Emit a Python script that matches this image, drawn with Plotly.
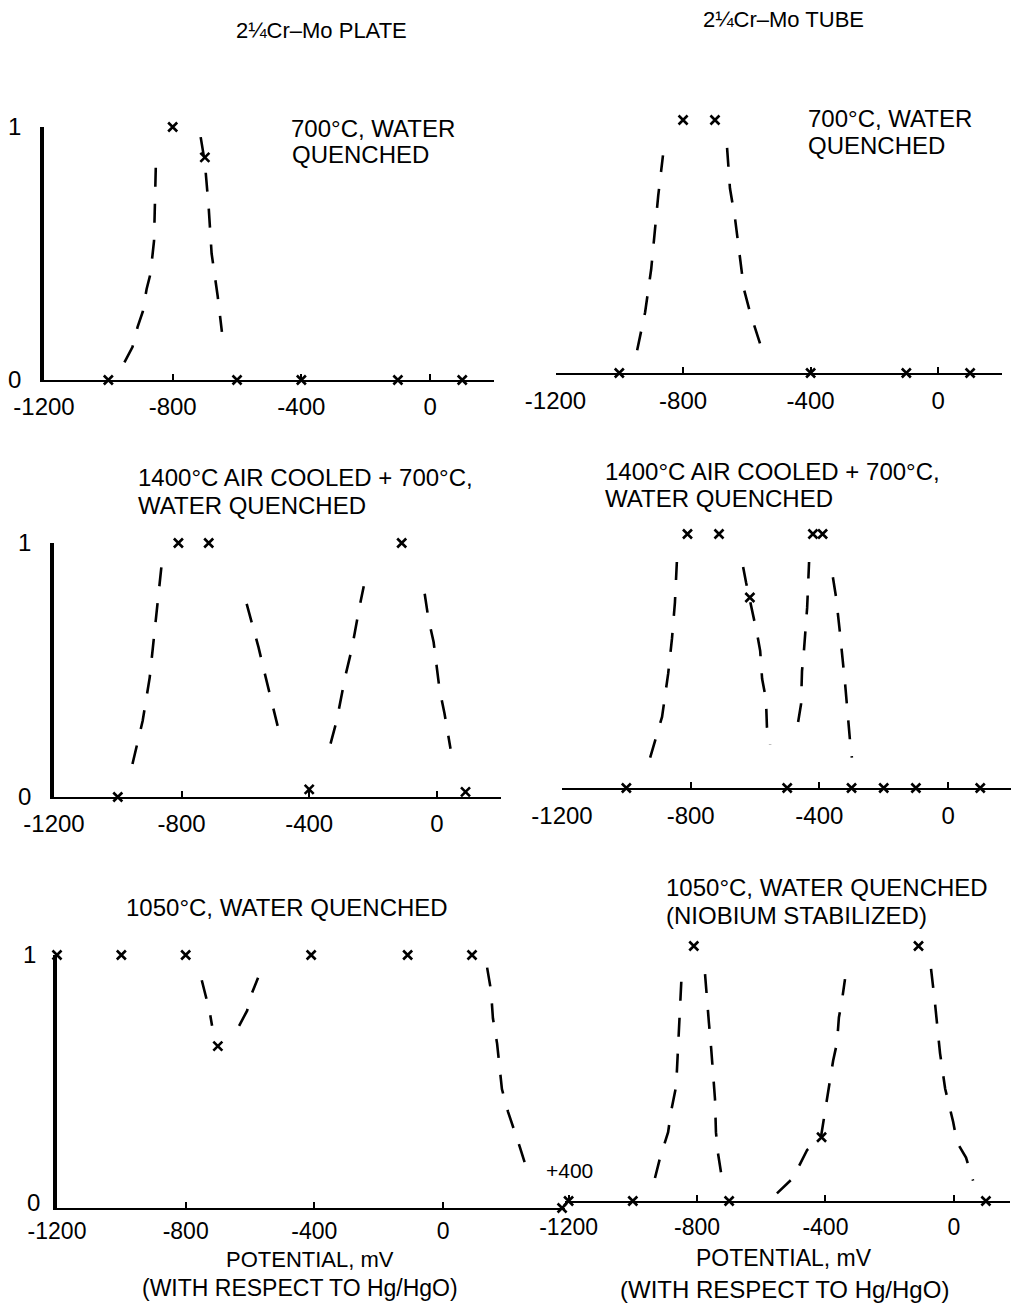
import plotly.graph_objects as go

# ---------------- data ----------------
tick_vals = [-1200, -800, -400, 0]
tick_text = ["-1200", "-800", "-400", "0"]

# 2 1/4 Cr-Mo plate, 700C water quenched
plate700_mx = [-1000, -800, -700, -600, -400, -100, 100]
plate700_my = [0, 1.0, 0.88, 0, 0, 0, 0]
plate700_c1x = [-950, -925, -909, -893, -881, -869, -858, -855, -852]
plate700_c1y = [0.07, 0.13, 0.21, 0.27, 0.36, 0.42, 0.55, 0.70, 0.87]
plate700_c2x = [-713, -700, -688, -679, -660, -647]
plate700_c2y = [0.96, 0.86, 0.68, 0.50, 0.33, 0.19]

# 2 1/4 Cr-Mo tube, 700C water quenched
tube700_mx = [-1000, -800, -700, -400, -100, 100]
tube700_my = [0, 1.0, 1.0, 0, 0, 0]
tube700_c1x = [-944, -919, -900, -888, -878, -863]
tube700_c1y = [0.09, 0.24, 0.41, 0.57, 0.70, 0.86]
tube700_c2x = [-662, -653, -637, -624, -609, -590, -552]
tube700_c2y = [0.89, 0.73, 0.61, 0.49, 0.33, 0.24, 0.09]

# plate, 1400C air cooled + 700C water quenched
plate1400_mx = [-1000, -810, -715, -400, -110, 90]
plate1400_my = [0, 1.0, 1.0, 0.03, 1.0, 0.02]
plate1400_c1x = [-954, -922, -900, -885, -869, -863]
plate1400_c1y = [0.13, 0.30, 0.47, 0.65, 0.85, 0.91]
plate1400_c2x = [-596, -559, -540, -515, -499]
plate1400_c2y = [0.76, 0.59, 0.49, 0.36, 0.28]
plate1400_c3x = [-333, -314, -286, -267, -242, -229]
plate1400_c3y = [0.21, 0.30, 0.48, 0.58, 0.75, 0.83]
plate1400_c4x = [-38, -26, -10, 2, 9, 24, 43]
plate1400_c4y = [0.80, 0.70, 0.61, 0.49, 0.42, 0.33, 0.19]

# tube, 1400C air cooled + 700C water quenched
tube1400_mx = [-1000, -810, -712, -616, -500, -420, -390, -300, -200, -100, 100]
tube1400_my = [0, 1.0, 1.0, 0.75, 0, 1.0, 1.0, 0, 0, 0, 0]
tube1400_c1x = [-926, -889, -870, -858, -849, -843]
tube1400_c1y = [0.12, 0.28, 0.45, 0.59, 0.73, 0.89]
tube1400_c2x = [-637, -628, -594, -584, -578, -566, -563, -553]
tube1400_c2y = [0.87, 0.81, 0.61, 0.54, 0.43, 0.35, 0.24, 0.17]
tube1400_c3x = [-466, -457, -454, -448, -438, -432]
tube1400_c3y = [0.26, 0.33, 0.46, 0.54, 0.71, 0.89]
tube1400_c4x = [-358, -348, -336, -330, -320, -305, -299]
tube1400_c4y = [0.83, 0.75, 0.61, 0.54, 0.41, 0.19, 0.12]

# plate, 1050C water quenched
plate1050_mx = [-1200, -1000, -800, -700, -410, -110, 90, 370]
plate1050_my = [1.0, 1.0, 1.0, 0.64, 1.0, 1.0, 1.0, 0]
plate1050_c1x = [-750, -735, -726, -718]
plate1050_c1y = [0.90, 0.83, 0.78, 0.72]
plate1050_c2x = [-634, -609, -597, -575]
plate1050_c2y = [0.72, 0.78, 0.84, 0.91]
plate1050_c3x = [137, 149, 155, 168, 183, 202, 239, 261]
plate1050_c3y = [0.95, 0.86, 0.75, 0.65, 0.47, 0.38, 0.24, 0.15]

# tube, 1050C water quenched (niobium stabilized)
tube1050_mx = [-1200, -1000, -810, -700, -412, -110, 100]
tube1050_my = [0, 0, 1.0, 0, 0.25, 1.0, 0]
tube1050_c1x = [-931, -915, -890, -881, -865, -862, -856, -853, -850, -847]
tube1050_c1y = [0.09, 0.17, 0.27, 0.35, 0.45, 0.53, 0.66, 0.74, 0.85, 0.91]
tube1050_c2x = [-775, -769, -763, -756, -750, -744, -741, -735, -725, -716]
tube1050_c2y = [0.89, 0.81, 0.70, 0.60, 0.48, 0.40, 0.27, 0.19, 0.11, 0.05]
tube1050_c3x = [-551, -501, -485, -457, -414, -395, -386, -376, -364, -358, -348, -339]
tube1050_c3y = [0.03, 0.09, 0.13, 0.20, 0.25, 0.40, 0.47, 0.55, 0.62, 0.72, 0.79, 0.87]
tube1050_c4x = [-71, -59, -43, -27, -2, 10, 38, 60]
tube1050_c4y = [0.91, 0.78, 0.58, 0.44, 0.31, 0.23, 0.17, 0.08]

# ---------------- layout helpers ----------------
W, H = 1011, 1306
FONT = "Liberation Sans"


def xdom(a, b):
    return [a / W, b / W]


def ydom(top, bottom):
    return [1 - bottom / H, 1 - top / H]


panels = [
    dict(m=(plate700_mx, plate700_my),
         c=[(plate700_c1x, plate700_c1y), (plate700_c2x, plate700_c2y)],
         xd=(44, 494.4), xr=(-1200, 200), yd=(127, 380), yax=True,
         yvals=[0, 1], ystand=14, xstand=4, xfont=24),
    dict(m=(tube700_mx, tube700_my),
         c=[(tube700_c1x, tube700_c1y), (tube700_c2x, tube700_c2y)],
         xd=(555.5, 1002), xr=(-1200, 200), yd=(120, 373), yax=False,
         yvals=[], ystand=14, xstand=5, xfont=24),
    dict(m=(plate1400_mx, plate1400_my),
         c=[(plate1400_c1x, plate1400_c1y), (plate1400_c2x, plate1400_c2y),
            (plate1400_c3x, plate1400_c3y), (plate1400_c4x, plate1400_c4y)],
         xd=(54, 500.6), xr=(-1200, 200), yd=(543, 797), yax=True,
         yvals=[0, 1], ystand=14, xstand=4, xfont=24),
    dict(m=(tube1400_mx, tube1400_my),
         c=[(tube1400_c1x, tube1400_c1y), (tube1400_c2x, tube1400_c2y),
            (tube1400_c3x, tube1400_c3y), (tube1400_c4x, tube1400_c4y)],
         xd=(562, 1010.8), xr=(-1200, 195), yd=(534, 788), yax=False,
         yvals=[], ystand=14, xstand=5, xfont=24),
    dict(m=(plate1050_mx, plate1050_my),
         c=[(plate1050_c1x, plate1050_c1y), (plate1050_c2x, plate1050_c2y),
            (plate1050_c3x, plate1050_c3y)],
         xd=(57, 565.3), xr=(-1200, 380), yd=(955, 1208), yax=True,
         yvals=[1], ystand=12, xstand=1, xfont=23),
    dict(m=(tube1050_mx, tube1050_my),
         c=[(tube1050_c1x, tube1050_c1y), (tube1050_c2x, tube1050_c2y),
            (tube1050_c3x, tube1050_c3y), (tube1050_c4x, tube1050_c4y)],
         xd=(565.4, 1010), xr=(-1210, 175), yd=(946, 1201), yax=False,
         yvals=[], ystand=14, xstand=4, xfont=23),
]

fig = go.Figure()
layout_axes = {}
for i, p in enumerate(panels, start=1):
    xa = "x" if i == 1 else f"x{i}"
    ya = "y" if i == 1 else f"y{i}"
    for cx, cy in p["c"]:
        fig.add_trace(go.Scatter(
            x=cx, y=cy, mode="lines", xaxis=xa, yaxis=ya,
            line=dict(color="black", width=2.6, dash="19px,17px"),
            showlegend=False, hoverinfo="skip"))
    mx, my = p["m"]
    fig.add_trace(go.Scatter(
        x=mx, y=my, mode="markers", xaxis=xa, yaxis=ya, cliponaxis=False,
        marker=dict(symbol="x-thin", size=9, color="black",
                    line=dict(color="black", width=2.6)),
        showlegend=False, hoverinfo="skip"))

    xkey = "xaxis" if i == 1 else f"xaxis{i}"
    ykey = "yaxis" if i == 1 else f"yaxis{i}"
    layout_axes[xkey] = dict(
        domain=xdom(*p["xd"]), range=list(p["xr"]), anchor=ya,
        showgrid=False, zeroline=False, showline=True, linecolor="black",
        linewidth=2, ticks="inside", ticklen=6, tickwidth=2, tickcolor="black",
        tickvals=tick_vals, ticktext=tick_text, ticklabelstandoff=p["xstand"],
        tickfont=dict(family=FONT, size=p["xfont"], color="black"),
        automargin=False, fixedrange=True)
    if p["yax"]:
        layout_axes[ykey] = dict(
            domain=ydom(*p["yd"]), range=[0, 1], anchor=xa,
            showgrid=False, zeroline=False, showline=True, linecolor="black",
            linewidth=3.5, ticks="inside", ticklen=7, tickwidth=2.5,
            tickcolor="black", tickvals=p["yvals"],
            ticktext=[str(v) for v in p["yvals"]],
            ticklabelstandoff=p["ystand"],
            tickfont=dict(family=FONT, size=24, color="black"),
            automargin=False, fixedrange=True)
    else:
        layout_axes[ykey] = dict(
            domain=ydom(*p["yd"]), range=[0, 1], anchor=xa,
            showgrid=False, zeroline=False, showline=False,
            showticklabels=False, ticks="", automargin=False, fixedrange=True)


def ann(text, px, py, size=24, xanchor="left"):
    return dict(text=text, x=px / W, y=1 - py / H, xref="paper", yref="paper",
                xanchor=xanchor, yanchor="middle", showarrow=False,
                font=dict(family=FONT, size=size, color="black"), align="left")


annotations = [
    ann("2¼Cr–Mo PLATE", 321, 30, size=22, xanchor="center"),
    ann("2¼Cr–Mo TUBE", 783, 20, size=22, xanchor="center"),
    ann("700°C, WATER", 289, 128),
    ann("QUENCHED", 290, 155),
    ann("700°C, WATER", 806, 118),
    ann("QUENCHED", 806, 145),
    ann("1400°C AIR COOLED + 700°C,", 136, 478),
    ann("WATER QUENCHED", 136, 505),
    ann("1400°C AIR COOLED + 700°C,", 603, 471),
    ann("WATER QUENCHED", 603, 498),
    ann("1050°C, WATER QUENCHED", 124, 907),
    ann("1050°C, WATER QUENCHED", 664, 887),
    ann("(NIOBIUM STABILIZED)", 664, 915),
    ann("+400", 544, 1170, size=21),
    ann("0", 33, 1202, size=24, xanchor="center"),
    ann("POTENTIAL, mV", 310, 1259, size=22, xanchor="center"),
    ann("(WITH RESPECT TO Hg/HgO)", 300, 1288, size=23, xanchor="center"),
    ann("POTENTIAL, mV", 784, 1258, size=23, xanchor="center"),
    ann("(WITH RESPECT TO Hg/HgO)", 784, 1289, size=24, xanchor="center"),
]

fig.update_layout(
    width=W, height=H, margin=dict(l=0, r=0, t=0, b=0, pad=0),
    paper_bgcolor="white", plot_bgcolor="white", showlegend=False,
    font=dict(family=FONT, color="black"), annotations=annotations,
    **layout_axes)

fig.write_html("out.html")
